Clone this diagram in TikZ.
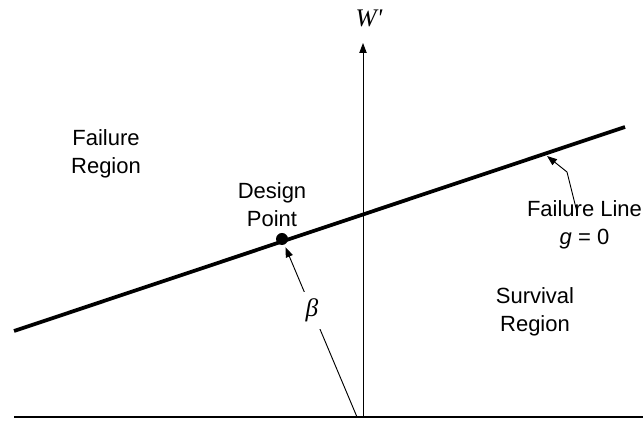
\documentclass[tikz,border=0pt]{standalone}
\usepackage{fontspec}
\setmainfont{Liberation Sans}
\newfontfamily\timesfont{Liberation Serif}
\usetikzlibrary{arrows.meta}

\begin{document}
\begin{tikzpicture}[x=0.75pt,y=-0.75pt,
		font=\fontsize{16.5pt}{21pt}\selectfont,
		>={Triangle[length=7.5pt,width=5.5pt]},
		lbl/.style={align=center,inner sep=0pt},
		greek/.style={font=\fontsize{19pt}{22pt}\selectfont\timesfont\itshape},
		axisline/.style={line width=0.7pt},
		limitline/.style={line width=2.8pt}]
	\useasboundingbox (0,0) rectangle (643,427);
	\coordinate (base west) at (14,417);
	\coordinate (base east) at (643,417);
	\coordinate (origin) at (363,417);
	\coordinate (top) at (363,43);
	\coordinate (fl west) at (14,331);
	\coordinate (fl east) at (625,127);
	\coordinate (beta foot) at (357,417);
	\coordinate (fl foot) at (577,212);
	\coordinate (fl bend) at (567,172);
	\coordinate (fl tip) at (547,156);
	\draw[line width=1.2pt] (base west) -- (base east);
	\draw[axisline,->] (origin) -- (top);
	\node[greek] (wprime) at (369,18) {W'};
	\draw[limitline] (fl west) -- (fl east);
	\node[circle,fill,inner sep=0pt,minimum size=9pt] (dp) at (282,239) {};
	\draw[axisline,->,shorten >=2pt] (beta foot) -- node[pos=0.62,fill=white,inner sep=5pt,greek] (beta) {β} (dp);
	\node[lbl] (failreg) at (106,154) {Failure\\Region};
	\node[lbl] (design) at (272,204.5) {Design\\Point};
	\node[lbl] (survreg) at (535,311.5) {Survival\\Region};
	\node[lbl] (failline) at (584.5,225) {Failure Line\\{\itshape g} = 0};
	\draw[axisline,->] (fl foot) -- (fl bend) -- (fl tip);
\end{tikzpicture}
\end{document}
